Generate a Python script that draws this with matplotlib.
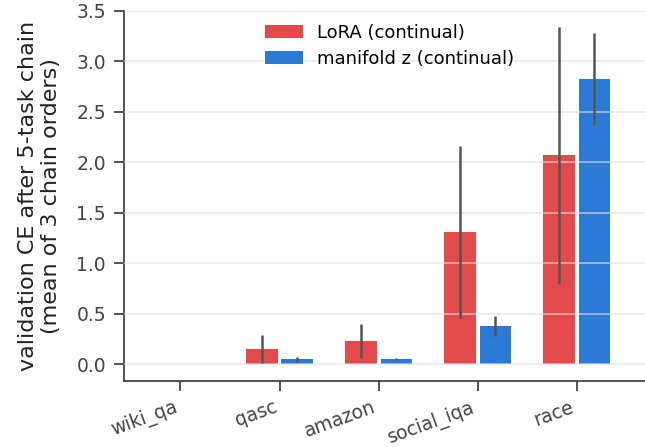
import numpy as np
import matplotlib.pyplot as plt

tasks = ['wiki_qa', 'qasc', 'amazon', 'social_iqa', 'race']
lora_mean = [0.003, 0.15, 0.23, 1.31, 2.07]
lora_err = [0.003, 0.14, 0.165, 0.855, 1.27]
mz_mean = [0.002, 0.05, 0.05, 0.38, 2.83]
mz_err = [0.002, 0.025, 0.01, 0.095, 0.455]

red = '#e34a4b'
blue = '#2b7bd6'
dark = '#444444'

plt.rcParams['font.family'] = 'DejaVu Sans'
fig = plt.figure(figsize=(6.45, 4.47), dpi=100)
ax = fig.add_axes([124 / 645, 1 - 381 / 447, 1 - 124 / 645, (381 - 11) / 447])

x = np.arange(len(tasks))
w = 0.32
off = 0.18
ax.bar(x - off, lora_mean, w, color=red, label='LoRA (continual)', zorder=2)
ax.bar(x + off, mz_mean, w, color=blue, label='manifold z (continual)', zorder=2)
ax.errorbar(x - off, lora_mean, yerr=lora_err, fmt='none', ecolor='#555555',
            elinewidth=1.8, capsize=0, zorder=4)
ax.errorbar(x + off, mz_mean, yerr=mz_err, fmt='none', ecolor='#555555',
            elinewidth=1.8, capsize=0, zorder=4)

ax.set_ylim(-0.165, 3.5)
ax.set_xlim(-0.57, 4.69)
ax.set_yticks(np.arange(0, 3.51, 0.5))
ax.yaxis.grid(True, color='#e0e0e0', alpha=0.75, linewidth=1.1, zorder=3)
ax.set_axisbelow(False)

ax.set_xticks(x)
ax.set_xticklabels(tasks, rotation=20, ha='right')
ax.tick_params(axis='both', colors=dark, labelcolor=dark, labelsize=13.5,
               length=7, width=1.3, direction='out')
ax.tick_params(axis='x', pad=5)
ax.tick_params(axis='y', pad=6)
for s in ['top', 'right']:
    ax.spines[s].set_visible(False)
for s in ['left', 'bottom']:
    ax.spines[s].set_color(dark)
    ax.spines[s].set_linewidth(1.3)

ax.set_ylabel('validation CE after 5-task chain\n(mean of 3 chain orders)',
              fontsize=16, color='#222222', labelpad=11)
ax.legend(loc='upper center', frameon=False, fontsize=13,
          bbox_to_anchor=(0.51, 1.01), handlelength=2.1, labelspacing=0.45)

plt.savefig('out.png', dpi=100)
